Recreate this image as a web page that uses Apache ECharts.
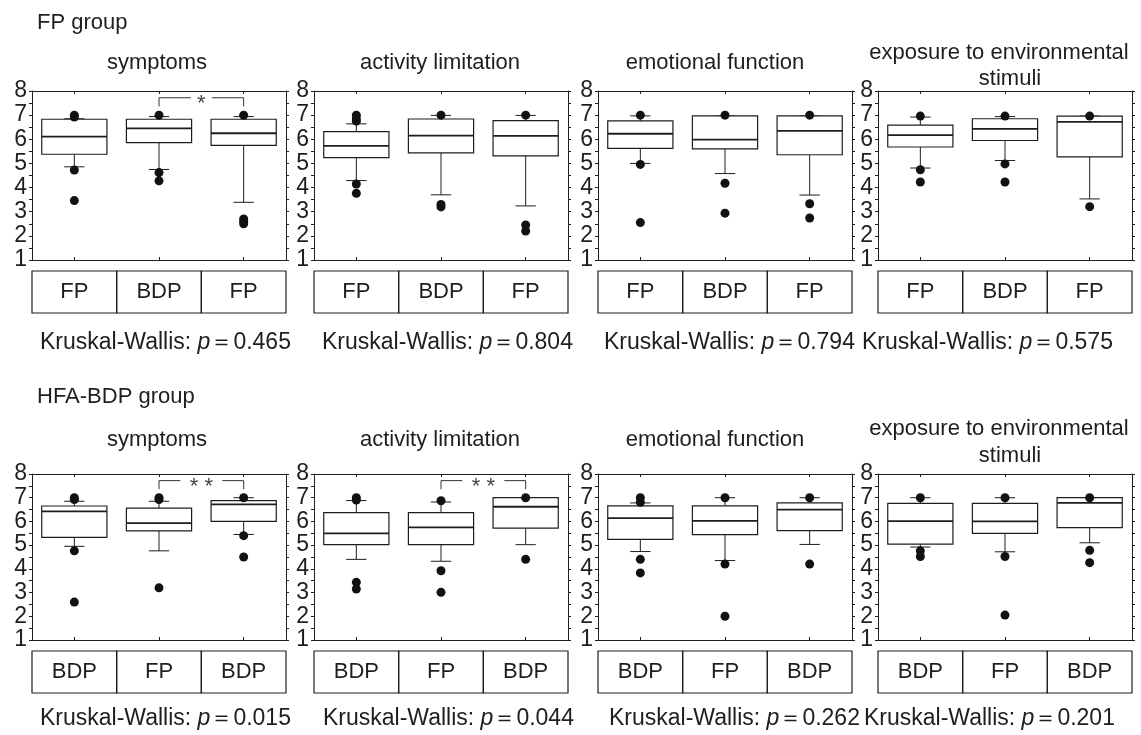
<!DOCTYPE html>
<html><head><meta charset="utf-8">
<script src="https://cdn.jsdelivr.net/npm/echarts@6/dist/echarts.min.js"></script>
<style>html,body{margin:0;padding:0;background:#fff}#c{width:1141px;height:735px}</style>
</head><body><div id="c"></div>
<script>
// ---------------- data ----------------
const groupTitles = ['FP group', 'HFA-BDP group'];
const domainTitles = ['symptoms', 'activity limitation', 'emotional function', 'exposure to environmental|stimuli'];
const fpCats = ['FP', 'BDP', 'FP'];
const hfaCats = ['BDP', 'FP', 'BDP'];
const yMin = 1, yMax = 8, yStep = 1;
const pValues = ['0.465', '0.804', '0.794', '0.575', '0.015', '0.044', '0.262', '0.201'];
const sigMarks = ['*', '', '', '', '* *', '* *', '', ''];
const sigPair = [1, 2];
const sigLevels = [7.72, 7.36]; // bracket top / bracket leg end

// box stats per category: [low whisker, Q1, median, Q3, high whisker]
const fpSymptomsBox = [[4.86, 5.38, 6.11, 6.83, 6.85], [4.75, 5.86, 6.45, 6.83, 6.94], [3.39, 5.75, 6.25, 6.83, 6.94]];
const fpSymptomsOut = [[0, 7.0], [0, 6.92], [0, 4.73], [0, 3.46], [1, 7.0], [1, 4.62], [1, 4.28], [2, 7.0], [2, 2.7], [2, 2.6], [2, 2.5]];
const fpActivityBox = [[4.29, 5.24, 5.73, 6.32, 6.64], [3.70, 5.44, 6.15, 6.84, 6.99], [3.24, 5.31, 6.14, 6.77, 6.99]];
const fpActivityOut = [[0, 7.0], [0, 6.85], [0, 6.75], [0, 4.15], [0, 3.76], [1, 7.0], [1, 3.3], [1, 3.2], [2, 7.0], [2, 2.45], [2, 2.2]];
const fpEmotionBox = [[5.0, 5.62, 6.23, 6.76, 6.97], [4.58, 5.6, 5.99, 6.97, 6.97], [3.69, 5.36, 6.35, 6.97, 6.97]];
const fpEmotionOut = [[0, 7.0], [0, 4.96], [0, 2.55], [1, 7.0], [1, 4.18], [1, 2.94], [2, 7.0], [2, 3.33], [2, 2.74]];
const fpExposureBox = [[4.81, 5.68, 6.17, 6.59, 6.92], [5.12, 5.95, 6.43, 6.85, 6.94], [3.53, 5.27, 6.72, 6.96, 6.96]];
const fpExposureOut = [[0, 6.96], [0, 4.74], [0, 4.23], [1, 6.96], [1, 4.98], [1, 4.23], [2, 6.96], [2, 3.21]];

const hfaSymptomsBox = [[4.95, 5.33, 6.42, 6.65, 6.85], [4.76, 5.6, 5.93, 6.56, 6.85], [5.45, 6.0, 6.72, 6.88, 7.0]];
const hfaSymptomsOut = [[0, 7.0], [0, 6.92], [0, 4.76], [0, 2.6], [1, 7.0], [1, 6.92], [1, 3.2], [2, 7.0], [2, 5.4], [2, 4.5]];
const hfaActivityBox = [[4.4, 5.02, 5.5, 6.37, 6.88], [4.32, 5.02, 5.75, 6.37, 6.82], [5.02, 5.72, 6.62, 7.0, 7.0]];
const hfaActivityOut = [[0, 7.0], [0, 6.9], [0, 3.43], [0, 3.15], [1, 6.87], [1, 3.92], [1, 3.01], [2, 7.0], [2, 4.4]];
const hfaEmotionBox = [[4.73, 5.24, 6.14, 6.66, 6.78], [4.35, 5.44, 6.02, 6.66, 7.0], [5.03, 5.61, 6.5, 6.78, 7.0]];
const hfaEmotionOut = [[0, 7.0], [0, 6.81], [0, 4.4], [0, 3.83], [1, 7.0], [1, 4.2], [1, 2.0], [2, 7.0], [2, 4.2]];
const hfaExposureBox = [[4.92, 5.04, 6.01, 6.76, 7.0], [4.72, 5.5, 6.0, 6.76, 7.0], [5.1, 5.74, 6.78, 7.0, 7.0]];
const hfaExposureOut = [[0, 7.0], [0, 4.76], [0, 4.52], [1, 7.0], [1, 4.52], [1, 2.05], [2, 7.0], [2, 4.78], [2, 4.26]];

const panelBoxes = [fpSymptomsBox, fpActivityBox, fpEmotionBox, fpExposureBox, hfaSymptomsBox, hfaActivityBox, hfaEmotionBox, hfaExposureBox];
const panelOutliers = [fpSymptomsOut, fpActivityOut, fpEmotionOut, fpExposureOut, hfaSymptomsOut, hfaActivityOut, hfaEmotionOut, hfaExposureOut];

// ---------------- layout ----------------
const FONT = '"Liberation Sans", Arial, Helvetica, sans-serif';
const INK = '#1e1e1e';
const colLeft = [32, 314, 598, 878];
const plotW = 254;
const rowTop = [91, 474];
const rowH = [169, 166];
const groupY = [23, 397];
const titleY = [63, 440];
const titleX = [157, 440, 715, 999];
const title2X = 1010;
const title2Y = [[53, 79], [429, 456]];
const kwY = [343, 719];
const kwX = [[40, 322, 604, 862], [40, 323, 609, 864]];

const chart = echarts.init(document.getElementById('c'), null, {renderer: 'canvas'});

const grids = [], xAxes = [], yAxes = [], series = [], titles = [];

function boxRenderer(params, api) {
  const x = api.value(0);
  const vals = [api.value(1), api.value(2), api.value(3), api.value(4), api.value(5)];
  const p = vals.map(v => api.coord([x, v]));
  const band = api.size([1, 0])[0];
  const bw = band * 0.77, cw = band * 0.24;
  const cx = p[0][0];
  const ls = {stroke: INK, lineWidth: 1};
  return {type: 'group', children: [
    {type: 'line', shape: {x1: cx, y1: p[1][1], x2: cx, y2: p[0][1]}, style: ls},
    {type: 'line', shape: {x1: cx, y1: p[3][1], x2: cx, y2: p[4][1]}, style: ls},
    {type: 'line', shape: {x1: cx - cw / 2, y1: p[0][1], x2: cx + cw / 2, y2: p[0][1]}, style: ls},
    {type: 'line', shape: {x1: cx - cw / 2, y1: p[4][1], x2: cx + cw / 2, y2: p[4][1]}, style: ls},
    {type: 'rect', shape: {x: cx - bw / 2, y: p[3][1], width: bw, height: p[1][1] - p[3][1]}, style: {fill: '#fff', stroke: INK, lineWidth: 1.2}},
    {type: 'line', shape: {x1: cx - bw / 2, y1: p[2][1], x2: cx + bw / 2, y2: p[2][1]}, style: {stroke: INK, lineWidth: 1.8}}
  ]};
}

function bracketRenderer(mark) {
  return function (params, api) {
    const a = api.value(0), b = api.value(1), top = api.value(2), leg = api.value(3);
    const pa = api.coord([a, top]), pb = api.coord([b, top]), pl = api.coord([a, leg]);
    const mid = (pa[0] + pb[0]) / 2;
    const gap = mark.length > 1 ? 21 : 10.5;
    const st = {stroke: '#333', lineWidth: 1};
    return {type: 'group', children: [
      {type: 'polyline', shape: {points: [[pa[0], pl[1]], [pa[0], pa[1]], [mid - gap, pa[1]]]}, style: Object.assign({fill: null}, st)},
      {type: 'polyline', shape: {points: [[mid + gap, pb[1]], [pb[0], pb[1]], [pb[0], pl[1]]]}, style: Object.assign({fill: null}, st)},
      {type: 'text', x: mid, y: pa[1] + 6, style: {text: mark, fill: '#444', font: '22px ' + FONT, textAlign: 'center', textVerticalAlign: 'middle'}}
    ]};
  };
}

for (let r = 0; r < 2; r++) {
  for (let c = 0; c < 4; c++) {
    const g = r * 4 + c;
    const cats = r === 0 ? fpCats : hfaCats;
    grids.push({left: colLeft[c], top: rowTop[r], width: plotW, height: rowH[r], show: false});
    const axLine = {show: true, lineStyle: {color: INK, width: 1}};
    xAxes.push({
      type: 'category', gridIndex: g, data: cats, position: 'bottom',
      axisLine: axLine,
      axisTick: {show: true, inside: true, alignWithLabel: true, length: 3, lineStyle: {color: INK}},
      axisLabel: {
        interval: 0, margin: 11, fontSize: 22, fontFamily: FONT, color: INK,
        width: plotW / 3, height: 42, lineHeight: 42, align: 'center', verticalAlign: 'top',
        borderColor: INK, borderWidth: 1.2
      },
      splitLine: {show: false}
    });
    xAxes.push({
      type: 'category', gridIndex: g, data: cats, position: 'top',
      axisLine: axLine,
      axisTick: {show: true, inside: true, alignWithLabel: true, length: 3, lineStyle: {color: INK}},
      axisLabel: {show: false}, splitLine: {show: false}
    });
    const yBase = {
      type: 'value', gridIndex: g, min: yMin, max: yMax, interval: yStep,
      axisLine: axLine,
      axisTick: {show: true, inside: false, length: 3, lineStyle: {color: INK}},
      minorTick: {show: true, splitNumber: 2, length: 3, lineStyle: {color: INK}},
      splitLine: {show: false}
    };
    yAxes.push(Object.assign({}, yBase, {position: 'left', axisLabel: {show: true, fontSize: 23, fontFamily: FONT, color: INK, margin: 5}}));
    yAxes.push(Object.assign({}, yBase, {position: 'right', axisLabel: {show: false}}));

    series.push({
      type: 'custom', xAxisIndex: 2 * g, yAxisIndex: 2 * g,
      renderItem: boxRenderer,
      encode: {x: 0, y: [1, 2, 3, 4, 5]},
      data: panelBoxes[g].map((b, i) => [i].concat(b)),
      z: 2, silent: true
    });
    series.push({
      type: 'scatter', xAxisIndex: 2 * g, yAxisIndex: 2 * g,
      data: panelOutliers[g], symbol: 'circle', symbolSize: 9,
      itemStyle: {color: '#111', opacity: 1}, z: 4, silent: true
    });
    if (sigMarks[g]) {
      series.push({
        type: 'custom', xAxisIndex: 2 * g, yAxisIndex: 2 * g,
        renderItem: bracketRenderer(sigMarks[g]),
        encode: {x: [0, 1], y: [2, 3]},
        data: [[sigPair[0], sigPair[1], sigLevels[0], sigLevels[1]]],
        z: 3, silent: true
      });
    }

    // panel titles
    const parts = domainTitles[c].split('|');
    const tStyle = {fontSize: 22, fontFamily: FONT, color: INK, fontWeight: 'normal', lineHeight: 26};
    if (parts.length === 1) {
      titles.push({text: parts[0], left: titleX[c], top: titleY[r], textAlign: 'center', textVerticalAlign: 'middle', padding: 0, textStyle: tStyle});
    } else {
      titles.push({text: parts[0], left: titleX[c], top: title2Y[r][0], textAlign: 'center', textVerticalAlign: 'middle', padding: 0, textStyle: tStyle});
      titles.push({text: parts[1], left: title2X, top: title2Y[r][1], textAlign: 'center', textVerticalAlign: 'middle', padding: 0, textStyle: tStyle});
    }
    // Kruskal-Wallis line
    titles.push({
      text: '{a|Kruskal-Wallis: }{i|p}{a|＝' + pValues[g] + '}',
      left: kwX[r][c], top: kwY[r], textAlign: 'left', textVerticalAlign: 'middle', padding: 0,
      textStyle: {fontWeight: 'normal', rich: {
        a: {fontSize: 23, fontFamily: FONT, color: INK, fontWeight: 'normal', lineHeight: 26},
        i: {fontSize: 23, fontFamily: FONT, color: INK, fontWeight: 'normal', fontStyle: 'italic', lineHeight: 26}
      }}
    });
  }
  titles.push({text: groupTitles[r], left: 37, top: groupY[r], textAlign: 'left', textVerticalAlign: 'middle', padding: 0,
    textStyle: {fontSize: 22, fontFamily: FONT, color: INK, fontWeight: 'normal', lineHeight: 26}});
}

chart.setOption({
  animation: false,
  backgroundColor: '#fff',
  title: titles,
  grid: grids,
  xAxis: xAxes,
  yAxis: yAxes,
  series: series
});
</script></body></html>
